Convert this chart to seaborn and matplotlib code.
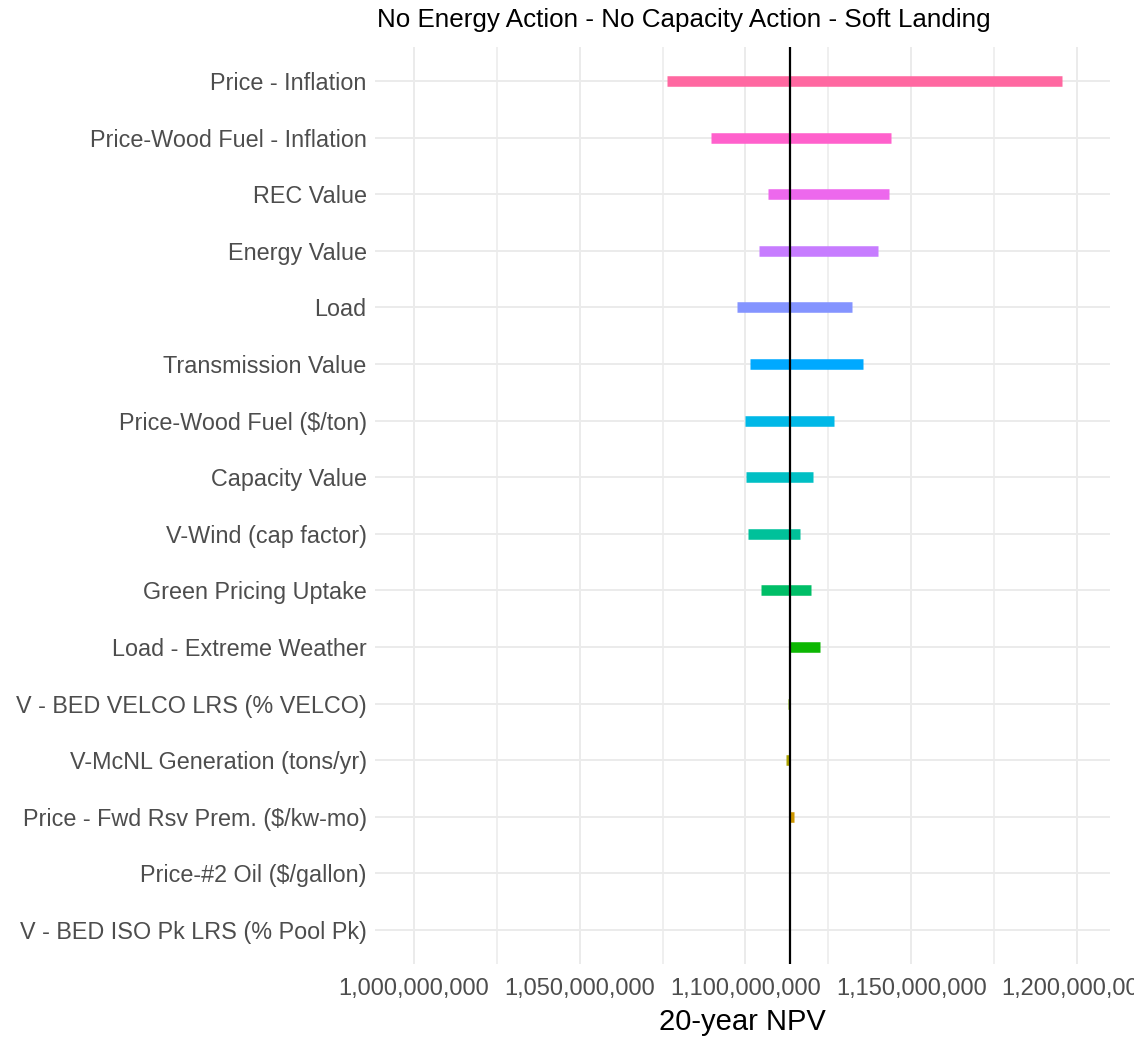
import numpy as np
import pandas as pd
import matplotlib
matplotlib.use("Agg")
import matplotlib.pyplot as plt
import seaborn as sns
from matplotlib.ticker import FixedLocator

# tornado data, top to bottom
variables = [
    "Price - Inflation",
    "Price-Wood Fuel - Inflation",
    "REC Value",
    "Energy Value",
    "Load",
    "Transmission Value",
    "Price-Wood Fuel ($/ton)",
    "Capacity Value",
    "V-Wind (cap factor)",
    "Green Pricing Uptake",
    "Load - Extreme Weather",
    "V - BED VELCO LRS (% VELCO)",
    "V-McNL Generation (tons/yr)",
    "Price - Fwd Rsv Prem. ($/kw-mo)",
    "Price-#2 Oil ($/gallon)",
    "V - BED ISO Pk LRS (% Pool Pk)",
]
low_npv = [1076.4e6, 1089.7e6, 1106.9e6, 1104.1e6, 1097.5e6, 1101.3e6, 1099.9e6, 1100.1e6,
           1100.9e6, 1104.8e6, 1113.5e6, 1112.9e6, 1112.3e6, 1113.5e6, 1113.5e6, 1113.5e6]
high_npv = [1195.6e6, 1143.8e6, 1143.2e6, 1139.9e6, 1132.3e6, 1135.4e6, 1126.6e6, 1120.3e6,
            1116.4e6, 1119.8e6, 1122.5e6, 1113.5e6, 1113.5e6, 1114.6e6, 1113.5e6, 1113.5e6]
base_npv = 1113.5e6

x_ticks = [1.00e9, 1.05e9, 1.10e9, 1.15e9, 1.20e9]
x_minor = [1.025e9, 1.075e9, 1.125e9, 1.175e9]
x_tick_labels = ["1,000,000,000", "1,050,000,000", "1,100,000,000", "1,150,000,000", "1,200,000,000"]

title = "No Energy Action - No Capacity Action - Soft Landing"
x_title = "20-year NPV"


def hcl_hex(h, c=100.0, l=65.0):
    # same conversion as R's hcl(), used by ggplot's default hue palette
    hr = np.deg2rad(h)
    U, V = c * np.cos(hr), c * np.sin(hr)
    Xn, Yn, Zn = 95.047, 100.0, 108.883
    Y = Yn * ((l + 16) / 116) ** 3
    t = Xn + Yn + Zn
    xw, yw = Xn / t, Yn / t
    uN = 2 * xw / (6 * yw - xw + 1.5)
    vN = 4.5 * yw / (6 * yw - xw + 1.5)
    u = U / (13 * l) + uN
    v = V / (13 * l) + vN
    X = 9.0 * Y * u / (4 * v)
    Z = -X / 3 - 5 * Y + 3 * Y / v
    X, Y, Z = X / 100, Y / 100, Z / 100
    rgb = [3.240479 * X - 1.537150 * Y - 0.498535 * Z,
           -0.969256 * X + 1.875992 * Y + 0.041556 * Z,
           0.055648 * X - 0.204043 * Y + 1.057311 * Z]
    out = []
    for ch in rgb:
        ch = 1.055 * ch ** (1 / 2.4) - 0.055 if ch > 0.00304 else 12.92 * ch
        out.append(min(max(ch, 0), 1))
    return matplotlib.colors.to_hex(out)


n = len(variables)
# level 1 is the bottom row, as in ggplot
palette = {var: hcl_hex(15 + 360 / n * (n - 1 - i)) for i, var in enumerate(variables)}

df = pd.DataFrame({
    "variable": variables * 2,
    "npv": low_npv + high_npv,
    "pos": list(range(n)) * 2,
})

sns.set_theme(style="white")
plt.rcParams["font.family"] = ["Liberation Sans", "DejaVu Sans"]

fig = plt.figure(figsize=(11.34, 10.40), dpi=100)
ax = fig.add_axes([0.3307, 0.0731, 0.6481, 0.8817])

sns.lineplot(data=df, x="npv", y="pos", hue="variable", hue_order=variables,
             palette=palette, estimator=None, sort=False, linewidth=7.6,
             solid_capstyle="butt", legend=False, ax=ax, zorder=3)
ax.axvline(base_npv, color="black", linewidth=1.6, zorder=4)

ax.set_xlim(988.2e6, 1210e6)
ax.set_ylim(n - 0.4, -0.6)
ax.set_yticks(range(n))
ax.set_yticklabels(variables)
ax.set_xticks(x_ticks)
ax.set_xticklabels(x_tick_labels)
ax.xaxis.set_minor_locator(FixedLocator(x_minor))

ax.grid(which="major", color="#EBEBEB", linewidth=1.4, zorder=0)
ax.grid(which="minor", axis="x", color="#EBEBEB", linewidth=1.1, zorder=0)
ax.set_axisbelow(True)
for s in ax.spines.values():
    s.set_visible(False)
ax.tick_params(axis="both", which="both", length=0)
ax.tick_params(axis="y", labelsize=16.8, labelcolor="#4D4D4D", pad=6)
ax.tick_params(axis="x", labelsize=17, labelcolor="#4D4D4D", pad=10)

ax.set_ylabel("")
ax.set_xlabel(x_title, fontsize=21, color="black", labelpad=6)
fig.text(377 / 1134, 1 - 27 / 1040, title, fontsize=18.7, ha="left", va="baseline", color="black")

fig.savefig("out.png", dpi=100)
